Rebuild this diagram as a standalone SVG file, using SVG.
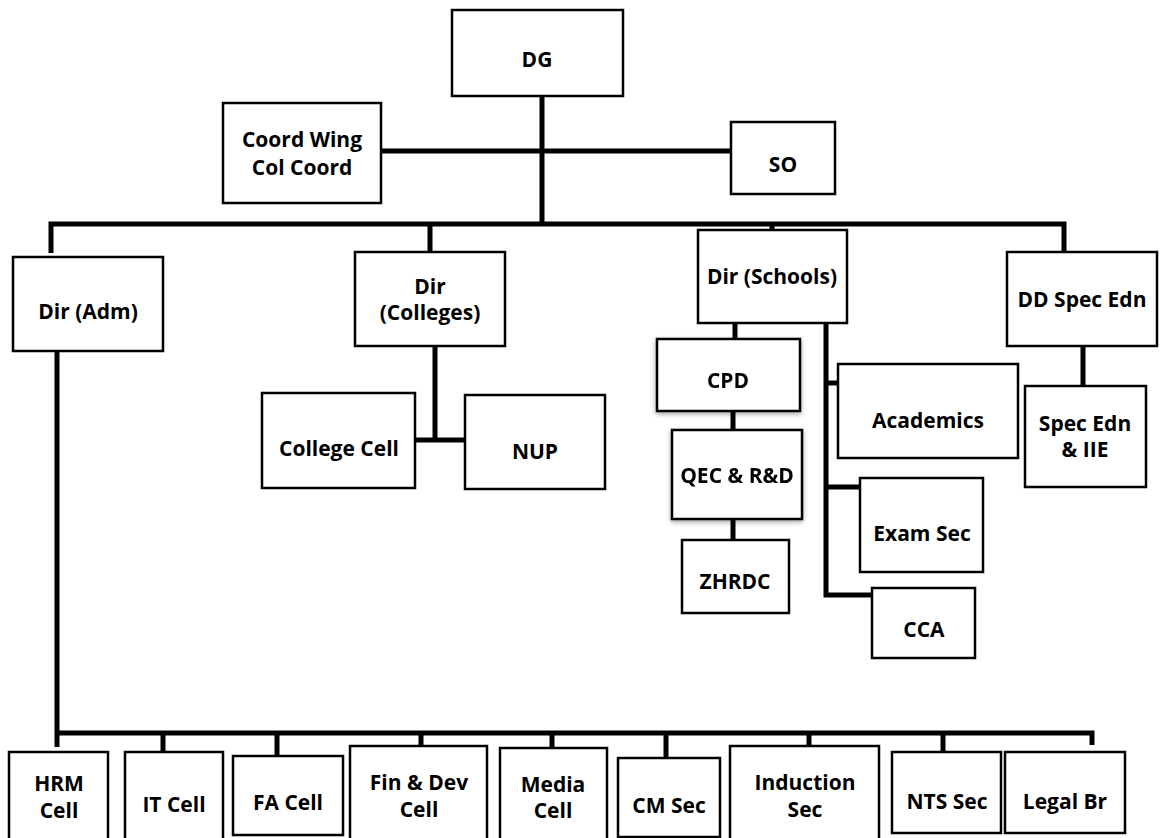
<svg xmlns="http://www.w3.org/2000/svg" width="1163" height="838" viewBox="0 0 1163 838">
<style>
.box{fill:#fff;stroke:#000;stroke-width:2.5}
.t{font-family:"Open Sans","Noto Sans","Liberation Sans",sans-serif;font-weight:700;font-size:21px;fill:#000;text-anchor:middle}
.c{fill:none;stroke:#000;stroke-width:5;stroke-linecap:butt;stroke-linejoin:miter}
</style>
<defs>
<filter id="sh" x="-20%" y="-20%" width="140%" height="150%">
<feDropShadow dx="0" dy="2" stdDeviation="2.5" flood-color="#000" flood-opacity="0.35"/>
</filter>
</defs>
<rect width="1163" height="838" fill="#fff"/>
<g id="connectors">
<path class="c" d="M542 96V224"/>
<path class="c" d="M381 151H731"/>
<path class="c" d="M51 253V224H1064V252"/>
<path class="c" d="M430 224V252"/>
<path class="c" d="M772 224V230"/>
<path class="c" d="M435 346V440"/>
<path class="c" d="M415 440H465"/>
<path class="c" d="M735 323V339"/>
<path class="c" d="M733 411V430"/>
<path class="c" d="M733 519V540"/>
<path class="c" d="M826 323V595H872"/>
<path class="c" d="M826 383H838"/>
<path class="c" d="M826 487H860"/>
<path class="c" d="M1083 346V386"/>
<path class="c" d="M57 351V747"/>
<path class="c" d="M57 733H1092V745"/>
<path class="c" d="M163 733V752"/>
<path class="c" d="M277 733V756"/>
<path class="c" d="M421 733V746"/>
<path class="c" d="M552 733V748"/>
<path class="c" d="M666 733V758"/>
<path class="c" d="M809 733V746"/>
<path class="c" d="M943 733V752"/>
</g>
<g id="dg"><rect class="box" x="452" y="10" width="171" height="86"/><text class="t" x="537" y="67">DG</text></g>
<g id="coord"><rect class="box" x="223" y="103" width="158" height="100"/><text class="t" x="302" y="147">Coord Wing</text><text class="t" x="302" y="175">Col Coord</text></g>
<g id="so"><rect class="box" x="731" y="122" width="104" height="72"/><text class="t" x="783" y="172">SO</text></g>
<g id="dir-adm"><rect class="box" x="13" y="257" width="150" height="94"/><text class="t" x="88" y="319">Dir (Adm)</text></g>
<g id="dir-colleges"><rect class="box" x="355" y="252" width="150" height="94"/><text class="t" x="430" y="294">Dir</text><text class="t" x="430" y="320">(Colleges)</text></g>
<g id="college-cell"><rect class="box" x="262" y="393" width="153" height="95"/><text class="t" x="339" y="456">College Cell</text></g>
<g id="nup"><rect class="box" x="465" y="395" width="140" height="94"/><text class="t" x="535" y="459">NUP</text></g>
<g id="dir-schools"><rect class="box" x="698" y="230" width="149" height="93"/><text class="t" x="772" y="284">Dir (Schools)</text></g>
<g id="dd-spec-edn"><rect class="box" x="1007" y="252" width="150" height="94"/><text class="t" x="1082" y="307">DD Spec Edn</text></g>
<g id="spec-edn-iie"><rect class="box" x="1025" y="386" width="121" height="101"/><text class="t" x="1085" y="431">Spec Edn</text><text class="t" x="1085" y="457">&amp; IIE</text></g>
<g id="cpd" filter="url(#sh)"><rect class="box" x="657" y="339" width="143" height="72"/><text class="t" x="728" y="388">CPD</text></g>
<g id="qec" filter="url(#sh)"><rect class="box" x="672" y="430" width="130" height="89"/><text class="t" x="737" y="483">QEC &amp; R&amp;D</text></g>
<g id="zhrdc"><rect class="box" x="682" y="540" width="107" height="73"/><text class="t" x="735" y="589">ZHRDC</text></g>
<g id="academics"><rect class="box" x="838" y="364" width="180" height="94"/><text class="t" x="928" y="428">Academics</text></g>
<g id="exam-sec"><rect class="box" x="860" y="478" width="123" height="94"/><text class="t" x="922" y="541">Exam Sec</text></g>
<g id="cca"><rect class="box" x="872" y="588" width="103" height="70"/><text class="t" x="924" y="637">CCA</text></g>
<g id="hrm"><rect class="box" x="9" y="752" width="99" height="100"/><text class="t" x="59" y="791">HRM</text><text class="t" x="59" y="818">Cell</text></g>
<g id="it"><rect class="box" x="125" y="752" width="98" height="100"/><text class="t" x="174" y="812">IT Cell</text></g>
<g id="fa"><rect class="box" x="233" y="756" width="110" height="79"/><text class="t" x="288" y="810">FA Cell</text></g>
<g id="fin"><rect class="box" x="350" y="746" width="137" height="100"/><text class="t" x="419" y="790">Fin &amp; Dev</text><text class="t" x="419" y="817">Cell</text></g>
<g id="media"><rect class="box" x="500" y="748" width="107" height="100"/><text class="t" x="553" y="792">Media</text><text class="t" x="553" y="818">Cell</text></g>
<g id="cm"><rect class="box" x="618" y="758" width="102" height="79"/><text class="t" x="669" y="813">CM Sec</text></g>
<g id="induction"><rect class="box" x="730" y="746" width="149" height="100"/><text class="t" x="805" y="790">Induction</text><text class="t" x="805" y="817">Sec</text></g>
<g id="nts"><rect class="box" x="892" y="752" width="109" height="81"/><text class="t" x="947" y="809">NTS Sec</text></g>
<g id="legal"><rect class="box" x="1005" y="752" width="120" height="81"/><text class="t" x="1065" y="809">Legal Br</text></g>
</svg>
